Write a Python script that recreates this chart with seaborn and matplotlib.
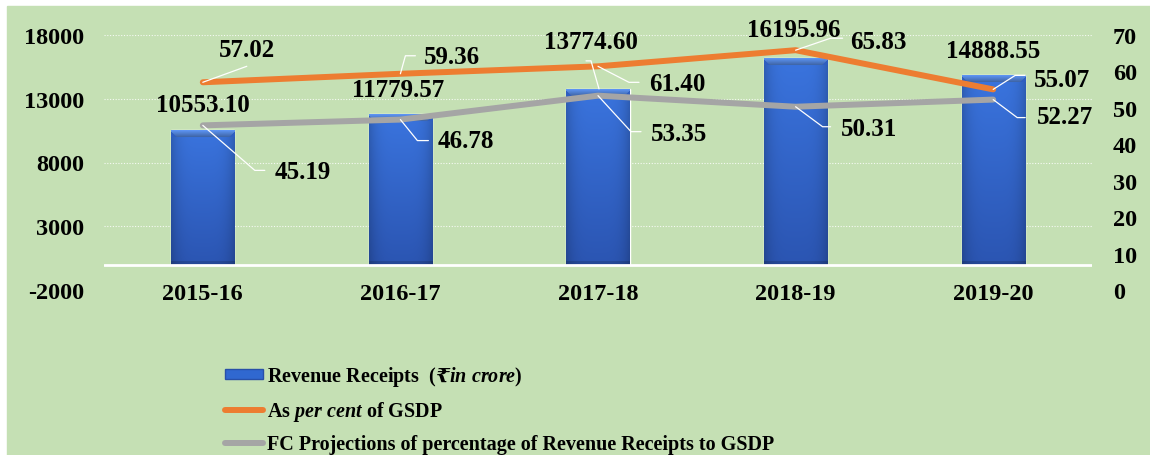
"""Revenue receipts vs GSDP: bars with two percentage lines on a twin axis."""

import matplotlib

matplotlib.use("Agg")

import matplotlib.pyplot as plt
import numpy as np
import pandas as pd
import seaborn as sns
from matplotlib.colors import to_rgb
from matplotlib.lines import Line2D
from matplotlib.patches import Patch, Rectangle
from matplotlib.transforms import IdentityTransform

years = ["2015-16", "2016-17", "2017-18", "2018-19", "2019-20"]
revenue_receipts = [10553.10, 11779.57, 13774.60, 16195.96, 14888.55]
pct_of_gsdp = [57.02, 59.36, 61.40, 65.83, 55.07]
fc_projection = [45.19, 46.78, 53.35, 50.31, 52.27]

left_ticks = [-2000, 3000, 8000, 13000, 18000]
right_ticks = [0, 10, 20, 30, 40, 50, 60, 70]

GREEN = "#C5E0B4"
BLUE = "#3068D0"
ORANGE = "#ED7D31"
GREY = "#A5A5A5"
FS = 17.5

# label layout, image pixels relative to the data point (y down)
pct_layout = [
    ([(0, 0), (44, -16)], (44, -33), "center"),
    ([(0, 0), (5, -18), (15, -18)], (23, -17), "left"),
    ([(0, 0), (31, 16), (41, 16)], (51, 17), "left"),
    ([(0, 0), (35, -12), (47, -12)], (55, -9), "left"),
    ([(0, 0), (22, -14), (32, -14)], (41, -10), "left"),
]
fc_layout = [
    ([(0, 0), (52, 45), (62, 45)], (72, 46), "left"),
    ([(0, 0), (17, 21), (28, 21)], (37, 21), "left"),
    ([(0, 0), (33, 36), (43, 36)], (53, 38), "left"),
    ([(0, 0), (27, 20), (35, 20)], (45, 22), "left"),
    ([(0, 0), (24, 18), (32, 18)], (44, 17), "left"),
]
bar_layout = [
    (None, (0, -25)),
    (None, (-2, -25)),
    ([(1, 0), (-7, -28), (-12, -28)], (-7, -47)),
    (None, (-2, -29)),
    (None, (0, -24)),
]

sns.set_theme(style="white")
plt.rcParams["font.family"] = ["Liberation Serif", "DejaVu Serif", "DejaVu Sans"]
plt.rcParams["font.weight"] = "bold"
plt.rcParams["text.color"] = "black"
plt.rcParams["mathtext.fontset"] = "custom"
plt.rcParams["mathtext.rm"] = "Liberation Serif:bold"
plt.rcParams["mathtext.bf"] = "Liberation Serif:bold"
plt.rcParams["mathtext.it"] = "Liberation Serif:italic:bold"
plt.rcParams["mathtext.sf"] = "DejaVu Serif:italic:bold"

df = pd.DataFrame(
    {
        "year": years,
        "pos": range(len(years)),
        "revenue": revenue_receipts,
        "pct": pct_of_gsdp,
        "fc": fc_projection,
    }
)

W, H = 1150, 456
fig = plt.figure(figsize=(W / 100, H / 100), dpi=100)
fig.patch.set_facecolor("white")
fig.patches.append(
    Rectangle((7 / W, 0), 1, 1 - 7 / H, transform=fig.transFigure,
              color=GREEN, zorder=-10)
)

ax = fig.add_axes([104 / W, 1 - 291 / H, (1092 - 104) / W, 255 / H])
ax.set_facecolor("none")
sns.barplot(data=df, x="year", y="revenue", ax=ax, width=0.32,
            color=BLUE, saturation=1, zorder=3)
ax.set_xlim(-0.5, len(years) - 0.5)
ax.set_ylim(-2000, 18000)
ax.set_yticks(left_ticks)
ax.set_yticklabels([str(t) for t in left_ticks], fontsize=FS, fontweight="bold")
ax.set_xticks(range(len(years)))
ax.set_xticklabels(years, fontsize=FS, fontweight="bold")
ax.set_xlabel("")
ax.set_ylabel("")
ax.tick_params(axis="y", length=0, pad=14, colors="black")
ax.tick_params(axis="x", length=0, pad=-5, colors="black")
for s in ax.spines.values():
    s.set_visible(False)
for t in left_ticks[1:]:
    ax.axhline(t, color="white", lw=0.8, ls=(0, (1, 1.5)), alpha=0.85, zorder=1)
ax.axhline(0, color="white", lw=2, zorder=4)

# gradient fill for the bars
fig.canvas.draw()
for patch in ax.patches:
    x0, y0 = patch.get_x(), patch.get_y()
    w, h = patch.get_width(), patch.get_height()
    px_h = ax.transData.transform((0, h))[1] - ax.transData.transform((0, 0))[1]
    rows = max(int(px_h), 2)
    top, bot = np.array(to_rgb("#3A74DE")), np.array(to_rgb("#2B55B2"))
    t = np.linspace(0, 1, rows)[:, None, None]
    cols = np.linspace(-1, 1, 60)
    shade = 1 - 0.18 * np.abs(cols) ** 4
    img = (top * (1 - t) + bot * t) * shade[None, :, None]
    light = np.array(to_rgb("#5C93F2"))
    edge = np.array(to_rgb("#2F5EC0"))
    for r in range(min(7, rows)):
        inset = int((r / 7) * 6)
        img[r, inset:60 - inset] = light * (1 - 0.35 * r / 7)
        img[r, :inset] = edge
        img[r, 60 - inset:] = edge
    img[-4:] = img[-4:] * 0.85
    im = ax.imshow(np.clip(img, 0, 1), extent=(x0, x0 + w, y0, y0 + h),
                   aspect="auto", zorder=3.5, interpolation="bilinear")
    im.set_clip_path(patch)
ax.set_xlim(-0.5, len(years) - 0.5)
ax.set_ylim(-2000, 18000)

ax2 = ax.twinx()
sns.lineplot(data=df, x="pos", y="fc", ax=ax2, color=GREY, lw=4.3,
             solid_capstyle="round")
sns.lineplot(data=df, x="pos", y="pct", ax=ax2, color=ORANGE, lw=4.3,
             solid_capstyle="round")
ax2.set_ylim(0, 70)
ax2.set_yticks(right_ticks)
ax2.set_yticklabels([str(t) for t in right_ticks], fontsize=FS, fontweight="bold")
ax2.tick_params(axis="y", length=0, pad=15, colors="black")
ax2.set_xlabel("")
ax2.set_ylabel("")
for s in ax2.spines.values():
    s.set_visible(False)

fig.canvas.draw()
k = 72 / 100  # pixels to points


def leader(pts, origin):
    ox, oy = origin
    xs = [ox + dx for dx, dy in pts]
    ys = [oy - dy for dx, dy in pts]
    fig.add_artist(Line2D(xs, ys, transform=IdentityTransform(),
                          color="white", lw=0.9, zorder=20))


for series, layout in ((pct_of_gsdp, pct_layout), (fc_projection, fc_layout)):
    for i, (val, (pts, (tx, ty), ha)) in enumerate(zip(series, layout)):
        origin = ax2.transData.transform((i, val))
        leader(pts, origin)
        ax2.annotate(f"{val:.2f}", xy=(i, val), xytext=(tx * k, -ty * k),
                     textcoords="offset points", ha=ha, va="center",
                     fontsize=FS + 0.5, fontweight="bold", zorder=21)

for i, (val, (pts, (tx, ty))) in enumerate(zip(revenue_receipts, bar_layout)):
    origin = ax.transData.transform((i, val))
    if pts:
        leader(pts, origin)
    ax.annotate(f"{val:.2f}", xy=(i, val), xytext=(tx * k, -ty * k),
                textcoords="offset points", ha="center", va="center",
                fontsize=FS + 0.5, fontweight="bold", zorder=21,
                annotation_clip=False)

handles = [
    Patch(facecolor=BLUE, edgecolor="#2850A8"),
    Line2D([], [], color=ORANGE, lw=4.3, solid_capstyle="round"),
    Line2D([], [], color=GREY, lw=4.3, solid_capstyle="round"),
]
labels = [
    r"Revenue Receipts  $\mathit{(}\mathsf{₹}\mathit{in\ crore)}$",
    r"As $\mathit{per\ cent}$ of GSDP",
    "FC Projections of percentage of Revenue Receipts to GSDP",
]
LFS = 14.5
leg = fig.legend(handles, labels, loc="upper left",
                 bbox_to_anchor=(225 / W, 1 - 365 / H), frameon=False,
                 prop={"size": LFS, "weight": "bold"}, handlelength=1.9,
                 handleheight=0.4, handletextpad=0.2, labelspacing=0.55,
                 borderpad=0, borderaxespad=0)

fig.savefig("out.png", dpi=100, facecolor=fig.get_facecolor())
